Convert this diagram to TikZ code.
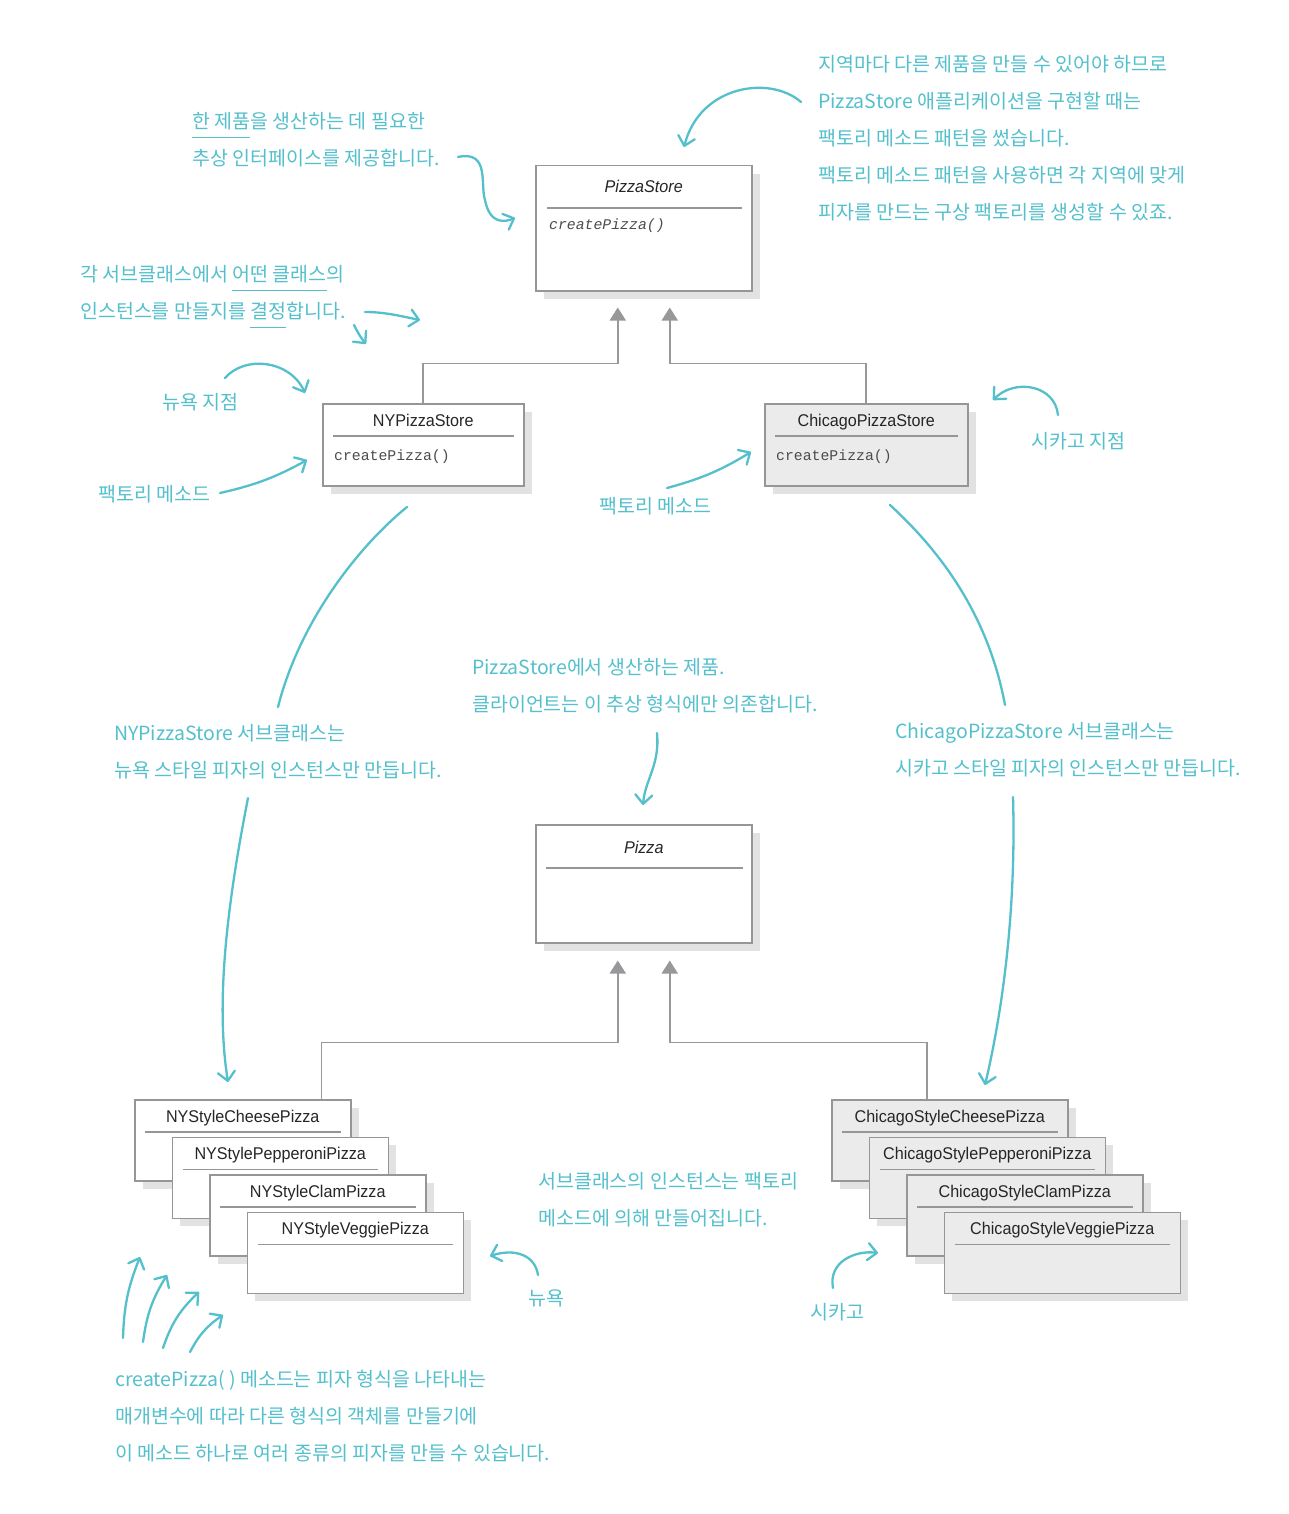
\documentclass[tikz,border=0pt]{standalone}
\usepackage{fontspec}
\setmainfont{Liberation Sans}
\newfontfamily\classfont{Liberation Sans}[FakeStretch=0.95]
\newfontfamily\opfont{Liberation Mono}
\newfontfamily\notefont{Noto Sans CJK KR}
\usetikzlibrary{arrows.meta,shadows}

\definecolor{note}{RGB}{84,192,204}
\definecolor{boxline}{RGB}{150,150,150}
\definecolor{boxshade}{RGB}{226,226,226}
\definecolor{boxgray}{RGB}{235,235,235}
\definecolor{inhline}{RGB}{152,152,154}

\tikzset{
	classbox/.style={draw=boxline, line width=1.5pt, fill=white, anchor=north west, inner sep=0pt,
		drop shadow={shadow xshift=8pt, shadow yshift=-8pt, fill=boxshade, opacity=1, draw=none}},
	store/.style={classbox, minimum width=201pt, minimum height=82pt},
	concrete/.style={classbox, minimum width=216pt, minimum height=81pt},
	classtitle/.style={font=\classfont\fontsize{17}{17}\selectfont, text=black!85, inner sep=0pt, anchor=base},
	classop/.style={font=\opfont\fontsize{14.8}{15}\selectfont, text=black!70, inner sep=0pt, anchor=base west},
	divider/.style={draw=boxline, line width=1.3pt},
	inherit/.style={draw=inhline, line width=1.8pt, -{Triangle[width=16pt,length=13pt]}},
	note/.style={font=\notefont\fontsize{19.5}{37}\selectfont, text=note, align=left, anchor=north west, inner sep=0pt},
	notecurve/.style={draw=note, line width=2.3pt, line cap=round},
	notearrow/.style={notecurve, -{Straight Barb[length=9pt,width=17pt,round]}}
}

% name, position, title, operation
\newcommand{\pizzaclass}[5][]{%
	\node[#1] (#2) at (#3) {};
	\node[classtitle] (#2-title) at ([yshift=-23pt]#2.north) {#4};
	\draw[divider] ([xshift=11pt,yshift=-33pt]#2.north west) -- ([xshift=-11pt,yshift=-33pt]#2.north east);
	\node[classop] (#2-op) at ([xshift=12pt,yshift=-57pt]#2.north west) {#5};
}
\newcommand{\noteline}[1]{\setbox0=\hbox{#1}\rlap{\rule[-10pt]{\wd0}{1.8pt}}\box0}

\begin{document}
\begin{tikzpicture}[x=1pt,y=-1pt]
	\path[fill=white,use as bounding box] (0,0) rectangle (1288,1514);

	% creator side
	\node[classbox,minimum width=216pt,minimum height=125pt] (pizzaStore) at (535,165) {};
	\node[classtitle] (pizzaStore-title) at ([yshift=-28pt]pizzaStore.north) {\itshape PizzaStore};
	\draw[divider] ([xshift=12pt,yshift=-43pt]pizzaStore.north west) -- ([xshift=-11pt,yshift=-43pt]pizzaStore.north east);
	\node[classop] (pizzaStore-op) at ([xshift=14pt,yshift=-65pt]pizzaStore.north west) {\itshape createPizza()};

	\pizzaclass[store]{nyStore}{322,403}{NYPizzaStore}{createPizza()}
	\pizzaclass[store,minimum width=203pt,fill=boxgray]{chiStore}{764,403}{ChicagoPizzaStore}{createPizza()}

	\draw[inherit] (nyStore.north) |- ([xshift=-26pt,yshift=-72pt]pizzaStore.south) -- ([xshift=-26pt,yshift=-16pt]pizzaStore.south);
	\draw[inherit] (chiStore.north) |- ([xshift=26pt,yshift=-72pt]pizzaStore.south) -- ([xshift=26pt,yshift=-16pt]pizzaStore.south);

	% product side
	\node[classbox,minimum width=216pt,minimum height=118pt] (pizza) at (535,824) {};
	\node[classtitle] (pizza-title) at ([yshift=-29pt]pizza.north) {\itshape Pizza};
	\draw[divider] ([xshift=11pt,yshift=-44pt]pizza.north west) -- ([xshift=-10pt,yshift=-44pt]pizza.north east);

	\foreach \kind [count=\i from 0] in {Cheese,Pepperoni,Clam,Veggie}{
		\pizzaclass[concrete]{ny\kind}{134+37.5*\i,1099+37.5*\i}{NYStyle\kind Pizza}{}
		\pizzaclass[concrete,minimum width=236pt,fill=boxgray]{chi\kind}{831+37.5*\i,1099+37.5*\i}{ChicagoStyle\kind Pizza}{}
	}

	\draw[inherit] ([xshift=-30pt]nyCheese.north east) |- ([xshift=-26pt,yshift=-99pt]pizza.south) -- ([xshift=-26pt,yshift=-17pt]pizza.south);
	\draw[inherit] ([xshift=96pt]chiCheese.north west) |- ([xshift=26pt,yshift=-99pt]pizza.south) -- ([xshift=26pt,yshift=-17pt]pizza.south);

	% notes
	\node[note] (noteInterface) at (192,112) {\noteline{한 제품}을 생산하는 데 필요한\\추상 인터페이스를 제공합니다.};
	\node[note] (noteRegion) at (818,55) {지역마다 다른 제품을 만들 수 있어야 하므로\\PizzaStore 애플리케이션을 구현할 때는\\팩토리 메소드 패턴을 썼습니다.\\팩토리 메소드 패턴을 사용하면 각 지역에 맞게\\피자를 만드는 구상 팩토리를 생성할 수 있죠.};
	\node[note] (noteDecide) at (80,265) {각 서브클래스에서 \noteline{어떤 클래스}의\\인스턴스를 만들지를 \noteline{결정}합니다.};
	\node[note] (noteNyBranch) at (162,393) {뉴욕 지점};
	\node[note] (noteNyFactory) at (98,485) {팩토리 메소드};
	\node[note] (noteChiFactory) at (599,497) {팩토리 메소드};
	\node[note] (noteChiBranch) at (1031,432) {시카고 지점};
	\node[note] (noteNyOnly) at (114,724) {NYPizzaStore 서브클래스는\\뉴욕 스타일 피자의 인스턴스만 만듭니다.};
	\node[note] (noteProduct) at (472,658) {PizzaStore에서 생산하는 제품.\\클라이언트는 이 추상 형식에만 의존합니다.};
	\node[note] (noteChiOnly) at (895,722) {ChicagoPizzaStore 서브클래스는\\시카고 스타일 피자의 인스턴스만 만듭니다.};
	\node[note] (noteMade) at (538,1172) {서브클래스의 인스턴스는 팩토리\\메소드에 의해 만들어집니다.};
	\node[note] (noteNy) at (528,1290) {뉴욕};
	\node[note] (noteChi) at (810,1303) {시카고};
	\node[note] (noteParam) at (115,1370) {createPizza( ) 메소드는 피자 형식을 나타내는\\매개변수에 따라 다른 형식의 객체를 만들기에\\이 메소드 하나로 여러 종류의 피자를 만들 수 있습니다.};

	% note arrows
	\coordinate (interfaceTail) at (458,157);
	\coordinate (interfaceHead) at (515,218);
	\draw[notearrow] (interfaceTail) .. controls (490,150) and (480,185) .. (485,200) .. controls (490,225) and (505,222) .. (interfaceHead);
	\coordinate (regionTail) at (801,102);
	\coordinate (regionHead) at (684,147);
	\draw[notearrow] (regionTail) .. controls (770,75) and (700,85) .. (regionHead);
	\coordinate (decideTail) at (365,312);
	\coordinate (decideHead) at (420,320);
	\draw[notearrow] (decideTail) .. controls (385,312) and (400,316) .. (decideHead);
	\coordinate (decideTailB) at (354,325);
	\coordinate (decideHeadB) at (366,344);
	\draw[notearrow] (decideTailB) .. controls (358,333) and (361,338) .. (decideHeadB);
	\coordinate (nyBranchTail) at (225,378);
	\coordinate (nyBranchHead) at (305,393);
	\draw[notearrow] (nyBranchTail) .. controls (245,355) and (290,360) .. (nyBranchHead);
	\coordinate (nyFactoryTail) at (220,493);
	\coordinate (nyFactoryHead) at (307,460);
	\draw[notearrow] (nyFactoryTail) to[bend right=8] (nyFactoryHead);
	\coordinate (chiFactoryTail) at (667,488);
	\coordinate (chiFactoryHead) at (751,452);
	\draw[notearrow] (chiFactoryTail) to[bend right=8] (chiFactoryHead);
	\coordinate (chiBranchTail) at (1058,415);
	\coordinate (chiBranchHead) at (993,400);
	\draw[notearrow] (chiBranchTail) .. controls (1055,385) and (1015,378) .. (chiBranchHead);

	\coordinate (nyOnlyStart) at (407,507);
	\coordinate (nyOnlyStop) at (278,707);
	\draw[notecurve] (nyOnlyStart) .. controls (360,545) and (300,620) .. (nyOnlyStop);
	\coordinate (nyOnlyTail) at (248,798);
	\coordinate (nyOnlyHead) at (228,1082);
	\draw[notearrow] (nyOnlyTail) .. controls (228,900) and (215,1000) .. (nyOnlyHead);
	\coordinate (chiOnlyStart) at (890,505);
	\coordinate (chiOnlyStop) at (1005,705);
	\draw[notecurve] (chiOnlyStart) .. controls (950,560) and (990,625) .. (chiOnlyStop);
	\coordinate (chiOnlyTail) at (1013,797);
	\coordinate (chiOnlyHead) at (985,1085);
	\draw[notearrow] (chiOnlyTail) .. controls (1016,900) and (1005,1000) .. (chiOnlyHead);

	\coordinate (productTail) at (657,733);
	\coordinate (productHead) at (643,805);
	\draw[notearrow] (productTail) .. controls (660,765) and (645,780) .. (productHead);
	\coordinate (nyTail) at (538,1275);
	\coordinate (nyHead) at (490,1256);
	\draw[notearrow] (nyTail) .. controls (535,1255) and (515,1248) .. (nyHead);
	\coordinate (chiTail) at (833,1288);
	\coordinate (chiHead) at (878,1253);
	\draw[notearrow] (chiTail) .. controls (828,1262) and (855,1250) .. (chiHead);

	\foreach \tx/\ty/\hx/\hy/\b in {123/1338/140/1257/10, 143/1342/167/1275/12, 163/1348/199/1292/14, 190/1352/223/1315/14}{
		\coordinate (paramTail) at (\tx,\ty);
		\coordinate (paramHead) at (\hx,\hy);
		\draw[notearrow] (paramTail) to[bend left=\b] (paramHead);
	}
\end{tikzpicture}
\end{document}
